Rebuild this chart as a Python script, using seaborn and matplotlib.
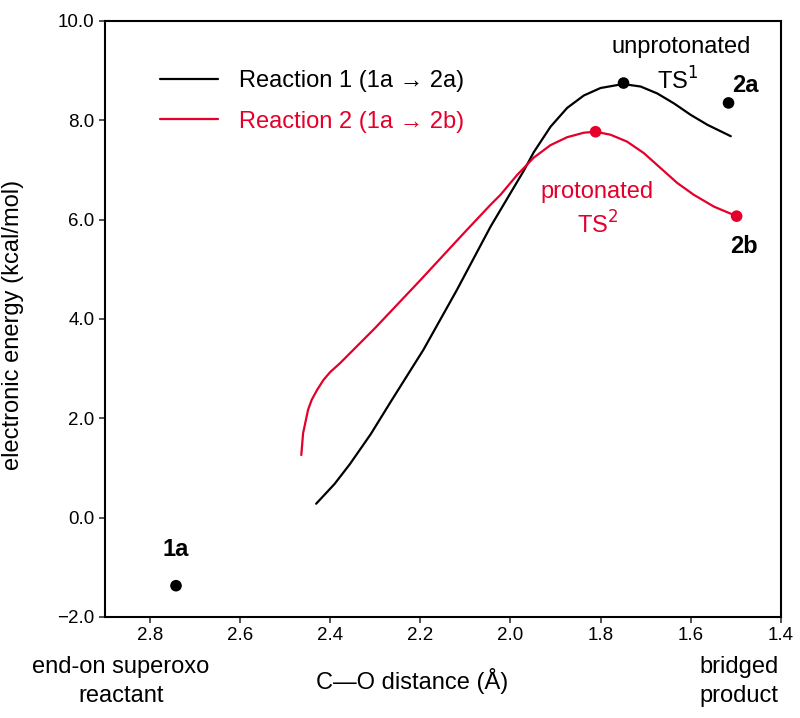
import numpy as np
import pandas as pd
import matplotlib
matplotlib.use("Agg")
import matplotlib.pyplot as plt
import seaborn as sns

r1_x = [2.431, 2.39, 2.356, 2.31, 2.263, 2.193, 2.119, 2.044, 1.970, 1.948, 1.911,
        1.874, 1.837, 1.80, 1.750, 1.711, 1.674, 1.637, 1.60, 1.563, 1.511]
r1_y = [0.28, 0.68, 1.08, 1.68, 2.37, 3.38, 4.58, 5.86, 6.99, 7.36, 7.87,
        8.25, 8.50, 8.65, 8.73, 8.68, 8.54, 8.34, 8.11, 7.91, 7.68]

r2_x = [2.464, 2.460, 2.449, 2.441, 2.429, 2.415, 2.40, 2.378, 2.30, 2.20, 2.10,
        2.044, 2.022, 1.985, 1.948, 1.911, 1.874, 1.837, 1.811, 1.778, 1.741,
        1.704, 1.667, 1.630, 1.593, 1.548, 1.498]
r2_y = [1.26, 1.70, 2.17, 2.37, 2.57, 2.77, 2.93, 3.11, 3.82, 4.78, 5.76,
        6.30, 6.50, 6.90, 7.25, 7.50, 7.66, 7.75, 7.77, 7.71, 7.57,
        7.34, 7.04, 6.74, 6.50, 6.26, 6.07]

# stationary points
black_pts_x = [2.742, 1.749, 1.516]
black_pts_y = [-1.37, 8.75, 8.35]
red_pts_x = [1.811, 1.498]
red_pts_y = [7.77, 6.07]

x_ticks = [2.8, 2.6, 2.4, 2.2, 2.0, 1.8, 1.6, 1.4]
y_ticks = [-2.0, 0.0, 2.0, 4.0, 6.0, 8.0, 10.0]

red = "#e4002b"

sns.set_style("ticks")
plt.rcParams["font.family"] = ["Liberation Sans", "DejaVu Sans"]
plt.rcParams["text.color"] = "black"
plt.rcParams["axes.labelcolor"] = "black"
plt.rcParams["xtick.color"] = "black"
plt.rcParams["ytick.color"] = "black"

fig = plt.figure(figsize=(8, 7.18), dpi=100)
ax = fig.add_axes([0.131, 0.1407, 0.845, 0.8301])

df1 = pd.DataFrame({"x": r1_x, "y": r1_y})
df2 = pd.DataFrame({"x": r2_x, "y": r2_y})
sns.lineplot(data=df1, x="x", y="y", sort=False, color="black", lw=1.6,
             label="Reaction 1 (1a \u2192 2a)", ax=ax)
sns.lineplot(data=df2, x="x", y="y", sort=False, color=red, lw=1.6,
             label="Reaction 2 (1a \u2192 2b)", ax=ax)
sns.scatterplot(x=black_pts_x, y=black_pts_y, color="black", s=70, edgecolor="none",
                zorder=5, ax=ax)
sns.scatterplot(x=red_pts_x, y=red_pts_y, color=red, s=70, edgecolor="none",
                zorder=5, ax=ax)

ax.set_xlim(2.9, 1.4)
ax.set_ylim(-2.0, 10.0)
ax.set_xticks(x_ticks)
ax.set_xticklabels([f"{v:.1f}" for v in x_ticks])
ax.set_yticks(y_ticks)
ax.set_yticklabels([f"{v:.1f}".replace("-", "\u2212") for v in y_ticks])
ax.tick_params(labelsize=13.5, length=4, width=1.2, color="#333333")
for s in ax.spines.values():
    s.set_linewidth(1.5)
    s.set_color("black")

ax.set_ylabel("electronic energy (kcal/mol)", fontsize=17)
ax.set_xlabel("C\u2014O distance (\u00c5)", fontsize=17)
ax.xaxis.set_label_coords(0.454, -0.085)
ax.yaxis.set_label_coords(-0.12, 0.49)

leg = ax.legend(frameon=False, fontsize=17, loc="upper left",
                bbox_to_anchor=(0.05, 0.953), handlelength=2.45,
                handletextpad=0.9, labelspacing=0.78)
leg.get_texts()[0].set_color("black")
leg.get_texts()[1].set_color(red)

# annotations
ax.text(2.742, -0.65, "1a", fontsize=17, fontweight="bold", ha="center", va="center")
ax.text(1.478, 8.70, "2a", fontsize=17, fontweight="bold", ha="center", va="center")
ax.text(1.482, 5.45, "2b", fontsize=17, fontweight="bold", ha="center", va="center")
ax.text(1.622, 9.48, "unprotonated", fontsize=17, ha="center", va="center")
ax.text(1.629, 8.79, "TS$^1$", fontsize=17, ha="center", va="center")
ax.text(1.807, 6.56, "protonated", fontsize=17, ha="center", va="center", color=red)
ax.text(1.807, 5.89, "TS$^2$", fontsize=17, ha="center", va="center", color=red)

fig.text(121 / 800, 1 - 667 / 718, "end-on superoxo", fontsize=17, ha="center", va="center")
fig.text(121 / 800, 1 - 696 / 718, "reactant", fontsize=17, ha="center", va="center")
fig.text(739 / 800, 1 - 667 / 718, "bridged", fontsize=17, ha="center", va="center")
fig.text(739 / 800, 1 - 696 / 718, "product", fontsize=17, ha="center", va="center")

fig.savefig("out.png", dpi=100)
